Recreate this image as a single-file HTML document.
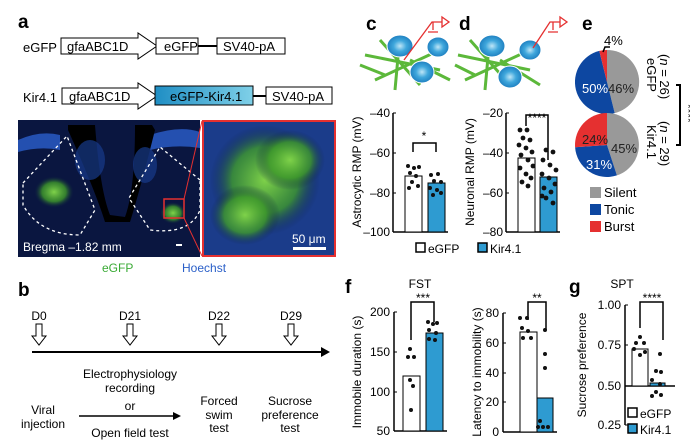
<!DOCTYPE html>
<html><head><meta charset="utf-8"><style>
html,body{margin:0;padding:0;background:#fff}
svg{display:block;font-family:"Liberation Sans",Arial,sans-serif}
</style></head><body>
<svg width="690" height="446" viewBox="0 0 690 446" xmlns="http://www.w3.org/2000/svg">
<defs>
<linearGradient id="kg" x1="0" x2="1"><stop offset="0" stop-color="#1f8ec4"/><stop offset="1" stop-color="#7fd0e8"/></linearGradient>
<radialGradient id="gr"><stop offset="0" stop-color="#7fd24a"/><stop offset="0.6" stop-color="#3f9a2a" stop-opacity="0.8"/><stop offset="1" stop-color="#0a1a40" stop-opacity="0"/></radialGradient>
<radialGradient id="cell"><stop offset="0" stop-color="#bfe6f7"/><stop offset="0.5" stop-color="#3fa7dc"/><stop offset="1" stop-color="#1e7fc0"/></radialGradient>
</defs>
<g font-size="13">
<!-- a -->
<text x="18" y="28" font-size="19" font-weight="bold">a</text>
<text x="23" y="52">eGFP</text>
<path d="M61,38 H138 V33 L157,46 L138,59 V54 H61 Z" fill="#fff" stroke="#000"/>
<text x="67" y="51">gfaABC1D</text>
<rect x="156" y="38" width="42" height="16" fill="#fff" stroke="#000"/><text x="164" y="51">eGFP</text>
<line x1="198" y1="46" x2="217" y2="46" stroke="#000" stroke-width="2"/>
<rect x="217" y="38" width="68" height="16" fill="#fff" stroke="#000"/><text x="223" y="51">SV40-pA</text>
<text x="23" y="102">Kir4.1</text>
<path d="M62,88 H138 V83 L157,96 L138,109 V104 H62 Z" fill="#fff" stroke="#000"/>
<text x="69" y="101">gfaABC1D</text>
<rect x="155" y="86" width="98" height="19" fill="url(#kg)" stroke="#000"/><text x="170" y="101">eGFP-Kir4.1</text>
<line x1="253" y1="96" x2="266" y2="96" stroke="#000" stroke-width="2"/>
<rect x="266" y="87" width="66" height="17" fill="#fff" stroke="#000"/><text x="272" y="101">SV40-pA</text>
<!-- images -->
<rect x="18" y="120" width="182" height="137" fill="#0a1640"/>
<path d="M18,140 Q40,130 60,135 L60,150 Q40,146 18,152Z M150,135 Q180,125 200,132 L200,148 Q175,144 150,150Z" fill="#2450b0"/>
<path d="M68,125 L95,125 Q100,190 110,215 L125,217 Q135,190 135,125 L152,125 L155,130 Q140,190 130,222 L105,222 Q95,190 68,130Z" fill="#000"/>
<ellipse cx="54" cy="192" rx="20" ry="16" fill="url(#gr)"/>
<ellipse cx="173" cy="213" rx="13" ry="11" fill="url(#gr)"/>
<ellipse cx="90" cy="160" rx="15" ry="20" fill="#173a8a" opacity="0.7"/>
<ellipse cx="145" cy="165" rx="12" ry="18" fill="#173a8a" opacity="0.7"/>
<path d="M23,183 L67,136 L95,210 L80,235 Q40,235 23,205 Z M200,180 L160,147 L129,198 L150,230 Q190,235 200,210Z" fill="none" stroke="#fff" stroke-dasharray="3,3" stroke-width="1.3"/>
<rect x="164" y="199" width="20" height="19" fill="none" stroke="#e53030" stroke-width="1.5"/>
<line x1="184" y1="199" x2="202" y2="121" stroke="#e53030"/><line x1="184" y1="218" x2="202" y2="256" stroke="#e53030"/>
<text x="23" y="251" fill="#fff" font-size="12">Bregma –1.82 mm</text>
<rect x="176" y="244" width="6" height="2" fill="#fff"/>
<rect x="203" y="121" width="132" height="135" fill="#1b3c8a" stroke="#e53030" stroke-width="2"/>
<ellipse cx="265" cy="180" rx="55" ry="55" fill="url(#gr)"/>
<ellipse cx="290" cy="160" rx="35" ry="30" fill="url(#gr)"/>
<ellipse cx="245" cy="215" rx="35" ry="30" fill="url(#gr)"/>
<text x="292" y="243" fill="#fff" font-size="12">50 μm</text>
<rect x="293" y="247" width="33" height="3" fill="#fff"/>
<text x="102" y="272" fill="#3aaa35" font-size="12">eGFP</text>
<text x="182" y="272" fill="#2a5fc8" font-size="12">Hoechst</text>
<!-- b -->
<text x="18" y="296" font-size="19" font-weight="bold">b</text>
<g font-size="12" text-anchor="middle">
<text x="39" y="320">D0</text><text x="130" y="320">D21</text><text x="219" y="320">D22</text><text x="291" y="320">D29</text>
</g>
<g fill="#fff" stroke="#000">
<path d="M36,324 h6 v12 h4 l-7,9 l-7,-9 h4z"/><path d="M127,324 h6 v12 h4 l-7,9 l-7,-9 h4z"/>
<path d="M216,324 h6 v12 h4 l-7,9 l-7,-9 h4z"/><path d="M288,324 h6 v12 h4 l-7,9 l-7,-9 h4z"/>
</g>
<line x1="32" y1="352" x2="324" y2="352" stroke="#000" stroke-width="2"/><path d="M330,352 l-9,-5 v10z"/>
<g font-size="12" text-anchor="middle">
<text x="130" y="378">Electrophysiology</text><text x="130" y="392">recording</text><text x="130" y="410">or</text><text x="130" y="437">Open field test</text>
<text x="43" y="414">Viral</text><text x="43" y="428">injection</text>
<text x="219" y="405">Forced</text><text x="219" y="419">swim</text><text x="219" y="432">test</text>
<text x="290" y="405">Sucrose</text><text x="290" y="419">preference</text><text x="290" y="432">test</text>
</g>
<line x1="79" y1="416" x2="174" y2="416" stroke="#000" stroke-width="1.5"/><path d="M181,416 l-8,-4 v8z"/>
<!-- c/d cells -->
<text x="366" y="30" font-size="19" font-weight="bold">c</text>
<text x="459" y="30" font-size="19" font-weight="bold">d</text>
<text x="582" y="30" font-size="19" font-weight="bold">e</text>
<g stroke="#5cb83a" stroke-width="3" fill="none">
<path d="M365,55 L440,70 M380,40 L420,85 M400,35 L395,90 M375,80 L440,50 M360,65 L385,75 M410,60 L450,80"/>
<path d="M458,55 L530,70 M470,40 L510,85 M490,35 L485,90 M465,80 L530,50 M455,65 L475,75 M500,60 L540,85"/>
</g>
<g fill="url(#cell)" stroke="#fff"><ellipse cx="400" cy="46" rx="13" ry="11"/><ellipse cx="438" cy="47" rx="11" ry="10"/><ellipse cx="422" cy="72" rx="12" ry="11"/>
<ellipse cx="492" cy="46" rx="13" ry="11"/><ellipse cx="530" cy="50" rx="11" ry="10"/><ellipse cx="510" cy="77" rx="12" ry="11"/></g>
<g stroke="#e53030" stroke-width="1.3" fill="none"><path d="M404,60 L432,22 H442 M442,17 v10 l7,-5z M433,22 v8 M428,32 h10"/>
<path d="M533,48 L550,22 H560 M560,17 v10 l7,-5z M553,22 v8 M548,32 h10"/></g>
<!-- c chart -->
<g font-size="12">
<text transform="translate(361,172) rotate(-90)" text-anchor="middle">Astrocytic RMP (mV)</text>
<line x1="393" y1="113" x2="393" y2="232" stroke="#000" stroke-width="1.5"/>
<g text-anchor="end"><text x="390" y="117">–40</text><text x="390" y="157">–60</text><text x="390" y="197">–80</text><text x="390" y="236">–100</text></g>
<g stroke="#000"><line x1="393" y1="113" x2="396" y2="113"/><line x1="393" y1="153" x2="396" y2="153"/><line x1="393" y1="193" x2="396" y2="193"/><line x1="393" y1="232" x2="448" y2="232" stroke-width="1.5"/></g>
<rect x="405" y="176" width="17" height="56" fill="#fff" stroke="#000"/>
<rect x="428" y="183" width="17" height="49" fill="#2e9bd1" stroke="#000"/>
<path d="M413,152 V143 H436 V152" fill="none" stroke="#000" stroke-width="1.5"/><text x="424" y="140" text-anchor="middle">*</text>
<g fill="#111"><circle cx="408" cy="166" r="2"/><circle cx="414" cy="168" r="2"/><circle cx="419" cy="167" r="2"/><circle cx="410" cy="173" r="2"/><circle cx="416" cy="176" r="2"/><circle cx="412" cy="182" r="2"/><circle cx="418" cy="186" r="2"/><circle cx="409" cy="188" r="2"/>
<circle cx="431" cy="175" r="2"/><circle cx="438" cy="174" r="2"/><circle cx="434" cy="181" r="2"/><circle cx="441" cy="182" r="2"/><circle cx="430" cy="188" r="2"/><circle cx="437" cy="190" r="2"/><circle cx="433" cy="195" r="2"/><circle cx="441" cy="193" r="2"/></g>
<!-- d chart -->
<text transform="translate(474,172) rotate(-90)" text-anchor="middle">Neuronal RMP (mV)</text>
<line x1="506" y1="113" x2="506" y2="232" stroke="#000" stroke-width="1.5"/>
<g text-anchor="end"><text x="503" y="117">–20</text><text x="503" y="157">–40</text><text x="503" y="197">–60</text><text x="503" y="236">–80</text></g>
<g stroke="#000"><line x1="506" y1="113" x2="509" y2="113"/><line x1="506" y1="153" x2="509" y2="153"/><line x1="506" y1="193" x2="509" y2="193"/><line x1="506" y1="232" x2="560" y2="232" stroke-width="1.5"/></g>
<rect x="518" y="158" width="17" height="74" fill="#fff" stroke="#000"/>
<rect x="540" y="177" width="17" height="55" fill="#2e9bd1" stroke="#000"/>
<path d="M526,126 V115 H548 V160" fill="none" stroke="#000" stroke-width="1.5"/><text x="537" y="122" text-anchor="middle">****</text>
<g fill="#111">
<circle cx="520" cy="130" r="2.4"/><circle cx="527" cy="130" r="2.4"/><circle cx="523" cy="138" r="2.4"/><circle cx="530" cy="140" r="2.4"/><circle cx="519" cy="145" r="2.4"/><circle cx="526" cy="148" r="2.4"/><circle cx="532" cy="152" r="2.4"/><circle cx="521" cy="155" r="2.4"/><circle cx="528" cy="160" r="2.4"/><circle cx="533" cy="166" r="2.4"/><circle cx="520" cy="168" r="2.4"/><circle cx="526" cy="174" r="2.4"/><circle cx="531" cy="178" r="2.4"/><circle cx="522" cy="182" r="2.4"/><circle cx="528" cy="186" r="2.4"/>
<circle cx="546" cy="150" r="2.4"/><circle cx="553" cy="152" r="2.4"/><circle cx="543" cy="160" r="2.4"/><circle cx="550" cy="165" r="2.4"/><circle cx="556" cy="170" r="2.4"/><circle cx="542" cy="174" r="2.4"/><circle cx="549" cy="178" r="2.4"/><circle cx="555" cy="184" r="2.4"/><circle cx="544" cy="188" r="2.4"/><circle cx="551" cy="192" r="2.4"/><circle cx="546" cy="198" r="2.4"/><circle cx="553" cy="203" r="2.4"/><circle cx="542" cy="196" r="2.4"/></g>
<rect x="416" y="243" width="9" height="9" fill="#fff" stroke="#000" stroke-width="1.5"/><text x="428" y="253">eGFP</text>
<rect x="478" y="243" width="9" height="9" fill="#2e9bd1" stroke="#000" stroke-width="1.5"/><text x="490" y="253">Kir4.1</text>
</g>
<!-- e pies -->
<g font-size="13">
<path d="M607,82 L607,50 A32,32 0 0 1 614.7,113.1 Z" fill="#999"/>
<path d="M607,82 L614.7,113.1 A32,32 0 0 1 599.3,50.9 Z" fill="#0d47a1"/>
<path d="M607,82 L599.3,50.9 A32,32 0 0 1 607,50 Z" fill="#e53030"/>
<text x="582" y="93" fill="#fff">50%</text><text x="608" y="93" fill="#222">46%</text>
<path d="M603,52 L605,47 H610" fill="none" stroke="#000" stroke-width="1.5"/><text x="604" y="45">4%</text>
<path d="M607,145 L607,113 A32,32 0 0 1 616.9,175.4 Z" fill="#999"/>
<path d="M607,145 L616.9,175.4 A32,32 0 0 1 575.1,147.2 Z" fill="#0d47a1"/>
<path d="M607,145 L575.1,147.2 A32,32 0 0 1 607,113 Z" fill="#e53030"/>
<text x="582" y="144" fill="#222">24%</text><text x="611" y="153" fill="#222">45%</text><text x="586" y="169" fill="#fff">31%</text>
<text transform="translate(647,58) rotate(90)">eGFP</text>
<text transform="translate(660,54) rotate(90)">(<tspan font-style="italic">n</tspan> = 26)</text>
<text transform="translate(647,125) rotate(90)">Kir4.1</text>
<text transform="translate(660,121) rotate(90)">(<tspan font-style="italic">n</tspan> = 29)</text>
<path d="M676,85 H680 V145 H676" fill="none" stroke="#000" stroke-width="2"/>
<text transform="translate(684,104) rotate(90)" font-size="12">****</text>
<rect x="590" y="187" width="11" height="11" fill="#999"/><text x="604" y="197">Silent</text>
<rect x="590" y="204" width="11" height="11" fill="#0d47a1"/><text x="604" y="214">Tonic</text>
<rect x="590" y="221" width="11" height="11" fill="#e53030"/><text x="604" y="231">Burst</text>
</g>
<!-- f -->
<text x="345" y="293" font-size="19" font-weight="bold">f</text>
<text x="569" y="293" font-size="19" font-weight="bold">g</text>
<g font-size="12">
<text x="420" y="288" text-anchor="middle">FST</text>
<text transform="translate(361,372) rotate(-90)" text-anchor="middle">Immobile duration (s)</text>
<line x1="394" y1="312" x2="394" y2="431" stroke="#000" stroke-width="1.5"/>
<g text-anchor="end"><text x="390" y="316">200</text><text x="390" y="356">150</text><text x="390" y="396">100</text><text x="390" y="435">50</text></g>
<g stroke="#000"><line x1="394" y1="312" x2="397" y2="312"/><line x1="394" y1="352" x2="397" y2="352"/><line x1="394" y1="392" x2="397" y2="392"/><line x1="394" y1="431" x2="447" y2="431" stroke-width="1.5"/></g>
<rect x="403" y="376" width="17" height="55" fill="#fff" stroke="#000"/>
<rect x="426" y="333" width="17" height="98" fill="#2e9bd1" stroke="#000"/>
<path d="M411,340 V302 H434 V322" fill="none" stroke="#000" stroke-width="1.5"/><text x="423" y="302" text-anchor="middle">***</text>
<g fill="#111"><circle cx="410" cy="349" r="2"/><circle cx="408" cy="357" r="2"/><circle cx="414" cy="357" r="2"/><circle cx="410" cy="380" r="2"/><circle cx="413" cy="386" r="2"/><circle cx="411" cy="410" r="2"/>
<circle cx="428" cy="322" r="2"/><circle cx="433" cy="324" r="2"/><circle cx="437" cy="323" r="2"/><circle cx="429" cy="330" r="2"/><circle cx="436" cy="333" r="2"/><circle cx="429" cy="339" r="2"/><circle cx="435" cy="340" r="2"/></g>
<text transform="translate(481,372) rotate(-90)" text-anchor="middle">Latency to immobility (s)</text>
<line x1="503" y1="313" x2="503" y2="432" stroke="#000" stroke-width="1.5"/>
<g text-anchor="end"><text x="499" y="317">80</text><text x="499" y="347">60</text><text x="499" y="377">40</text><text x="499" y="406">20</text><text x="499" y="436">0</text></g>
<g stroke="#000"><line x1="503" y1="313" x2="506" y2="313"/><line x1="503" y1="343" x2="506" y2="343"/><line x1="503" y1="373" x2="506" y2="373"/><line x1="503" y1="402" x2="506" y2="402"/><line x1="503" y1="432" x2="557" y2="432" stroke-width="1.5"/></g>
<rect x="520" y="332" width="17" height="100" fill="#fff" stroke="#000"/>
<rect x="537" y="398" width="16" height="34" fill="#2e9bd1" stroke="#000"/>
<path d="M528,320 V302 H546 V330" fill="none" stroke="#000" stroke-width="1.5"/><text x="537" y="302" text-anchor="middle">**</text>
<g fill="#111"><circle cx="520" cy="318" r="2"/><circle cx="527" cy="318" r="2"/><circle cx="522" cy="328" r="2"/><circle cx="528" cy="331" r="2"/><circle cx="523" cy="338" r="2"/><circle cx="531" cy="338" r="2"/>
<circle cx="545" cy="330" r="2"/><circle cx="545" cy="354" r="2"/><circle cx="545" cy="368" r="2"/><circle cx="540" cy="421" r="2"/><circle cx="538" cy="427" r="2"/><circle cx="543" cy="427" r="2"/><circle cx="548" cy="427" r="2"/></g>
<!-- g -->
<text x="622" y="288" text-anchor="middle">SPT</text>
<text transform="translate(586,365) rotate(-90)" text-anchor="middle">Sucrose preference</text>
<line x1="625" y1="305" x2="625" y2="425" stroke="#000" stroke-width="1.5"/>
<g text-anchor="end"><text x="621" y="309">1.00</text><text x="621" y="349">0.75</text><text x="621" y="390">0.50</text><text x="621" y="429">0.25</text></g>
<g stroke="#000"><line x1="625" y1="305" x2="628" y2="305"/><line x1="625" y1="345" x2="628" y2="345"/><line x1="625" y1="425" x2="628" y2="425"/><line x1="625" y1="386" x2="675" y2="386" stroke-width="1.5"/></g>
<rect x="632" y="349" width="16" height="37" fill="#fff" stroke="#000"/>
<rect x="650" y="383" width="15" height="3" fill="#2e9bd1" stroke="#000"/>
<path d="M640,328 V302 H663 V340" fill="none" stroke="#000" stroke-width="1.5"/><text x="652" y="302" text-anchor="middle">****</text>
<g fill="#111"><circle cx="640" cy="337" r="2"/><circle cx="636" cy="343" r="2"/><circle cx="644" cy="343" r="2"/><circle cx="634" cy="349" r="2"/><circle cx="640" cy="355" r="2"/><circle cx="645" cy="352" r="2"/>
<circle cx="660" cy="354" r="2"/><circle cx="656" cy="371" r="2"/><circle cx="661" cy="372" r="2"/><circle cx="652" cy="380" r="2"/><circle cx="660" cy="384" r="2"/><circle cx="656" cy="392" r="2"/><circle cx="652" cy="396" r="2"/><circle cx="661" cy="395" r="2"/></g>
<rect x="628" y="408" width="9" height="9" fill="#fff" stroke="#000" stroke-width="1.5"/><text x="640" y="418">eGFP</text>
<rect x="628" y="424" width="9" height="9" fill="#2e9bd1" stroke="#000" stroke-width="1.5"/><text x="640" y="434">Kir4.1</text>
</g>
</g>
</svg>
</body></html>
